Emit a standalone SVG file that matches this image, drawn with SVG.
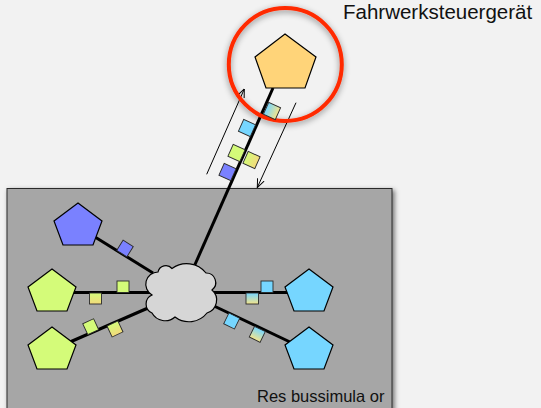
<svg xmlns="http://www.w3.org/2000/svg" width="541" height="408" viewBox="0 0 541 408">
  <defs>
    <style>
      .node { stroke: #000; stroke-width: 1.2; stroke-linejoin: miter; }
      .bus { stroke: #000; stroke-width: 3; fill: none; }
      .flow { stroke: #000; stroke-width: 1; fill: none; marker-end: url(#openArrow); }
      .msg { stroke: #2a2a2a; stroke-width: 0.9; }
      .label { font-family: "Liberation Sans", Arial, sans-serif; fill: #111; }
      .orange { fill: #ffd479; }
      .blue { fill: #7a81ff; }
      .green { fill: #d4fb79; }
      .cyan { fill: #76d6ff; }
    </style>
    <linearGradient id="cyanToSandV" x1="0" y1="0" x2="0" y2="1">
      <stop offset="0" stop-color="#76d6ff"/>
      <stop offset="1" stop-color="#f4e48c"/>
    </linearGradient>
    <linearGradient id="greenToYellowV" x1="0" y1="0" x2="0" y2="1">
      <stop offset="0" stop-color="#d4fb79"/>
      <stop offset="1" stop-color="#f3da7c"/>
    </linearGradient>
    <linearGradient id="cyanToSandH" x1="0" y1="0" x2="1" y2="0">
      <stop offset="0" stop-color="#76d6ff"/>
      <stop offset="1" stop-color="#f4e48c"/>
    </linearGradient>
    <linearGradient id="greenToYellowH" x1="0" y1="0" x2="1" y2="0">
      <stop offset="0" stop-color="#d4fb79"/>
      <stop offset="1" stop-color="#f3da7c"/>
    </linearGradient>
    <filter id="softShadow" x="-10%" y="-10%" width="120%" height="120%">
      <feGaussianBlur in="SourceAlpha" stdDeviation="2.5"/>
      <feOffset dx="1.5" dy="1.5" result="b"/>
      <feFlood flood-color="#000" flood-opacity="0.55"/>
      <feComposite in2="b" operator="in"/>
      <feMerge><feMergeNode/><feMergeNode in="SourceGraphic"/></feMerge>
    </filter>
    <filter id="ringShadow" x="-20%" y="-20%" width="140%" height="140%">
      <feGaussianBlur in="SourceAlpha" stdDeviation="3"/>
      <feOffset dx="0" dy="2" result="b"/>
      <feFlood flood-color="#000" flood-opacity="0.45"/>
      <feComposite in2="b" operator="in"/>
      <feMerge><feMergeNode/><feMergeNode in="SourceGraphic"/></feMerge>
    </filter>
    <marker id="openArrow" viewBox="0 0 10 10" refX="9.5" refY="5" markerWidth="9" markerHeight="9" markerUnits="userSpaceOnUse" orient="auto">
      <path d="M0,1 L9.5,5 L0,9" fill="none" stroke="#000" stroke-width="1.1"/>
    </marker>
  </defs>

  <!-- canvas -->
  <rect x="0" y="0" width="541" height="408" fill="#f2f2f2"/>

  <!-- rest-bus simulator enclosure -->
  <g id="simulator">
    <rect x="7" y="188.5" width="385" height="240" fill="#a6a6a6" stroke="#2b2b2b" stroke-width="1" filter="url(#softShadow)"/>
    <text class="label" x="257" y="401.5" font-size="16.5">Res bussimula or</text>
  </g>

  <!-- bus wiring -->
  <g id="connectors">
    <line class="bus" x1="273" y1="88" x2="193" y2="269"/>
    <line class="bus" x1="95" y1="237" x2="153" y2="273"/>
    <line class="bus" x1="70" y1="292.5" x2="150" y2="292.5"/>
    <line class="bus" x1="70" y1="342" x2="148" y2="308"/>
    <line class="bus" x1="214" y1="292.5" x2="290" y2="292.5"/>
    <line class="bus" x1="214" y1="306" x2="290" y2="342"/>
    <!-- transfer direction arrows -->
    <line class="flow" x1="206.7" y1="174.3" x2="244.3" y2="89"/>
    <line class="flow" x1="296" y1="102.7" x2="257.3" y2="187.5"/>
  </g>

  <!-- central bus cloud -->
  <g id="bus-cloud">
    <path class="node" fill="#d6d6d6" d="M152,295 A12.3,12.3 0 0 1 158,272 A8,8 0 0 1 172,268.5 A24.6,24.6 0 0 1 206,273 A9.5,9.5 0 0 1 212,290 A13.4,13.4 0 0 1 207,313 A23,23 0 0 1 175,317 A15,15 0 0 1 152,313 A9.8,9.8 0 0 1 152,295 Z"/>
  </g>

  <!-- control unit under test -->
  <g id="ecu-chassis">
    <circle cx="285.3" cy="64.5" r="56.5" fill="none" stroke="#ff2a00" stroke-width="4" filter="url(#ringShadow)"/>
    <polygon class="node orange" points="285,34 316,57 305,88 266,88 255,57"/>
    <text class="label" x="343" y="18.5" font-size="20.5">Fahrwerksteuergerät</text>
  </g>

  <!-- simulated bus participants -->
  <g id="node-blue">
    <polygon class="node blue" points="78,203 102,221 93,245 63,245 54,221"/>
  </g>
  <g id="node-green-1">
    <polygon class="node green" points="52,269 76,287 67,311 37,311 28,287"/>
  </g>
  <g id="node-green-2">
    <polygon class="node green" points="52,327 76,345 67,369 37,369 28,345"/>
  </g>
  <g id="node-cyan-1">
    <polygon class="node cyan" points="309,269 333,287 324,311 294,311 285,287"/>
  </g>
  <g id="node-cyan-2">
    <polygon class="node cyan" points="309,327 333,345 324,369 294,369 285,345"/>
  </g>

  <!-- messages travelling on the bus -->
  <g id="messages">
    <g transform="translate(272,111) rotate(24)"><rect class="msg" x="-6.5" y="-6.5" width="13" height="13" fill="url(#cyanToSandH)"/></g>
    <g transform="translate(247,128) rotate(24)"><rect class="msg cyan" x="-6.5" y="-6.5" width="13" height="13"/></g>
    <g transform="translate(236.5,153) rotate(24)"><rect class="msg green" x="-6.5" y="-6.5" width="13" height="13"/></g>
    <g transform="translate(251.5,160) rotate(24)"><rect class="msg" x="-6.5" y="-6.5" width="13" height="13" fill="url(#greenToYellowH)"/></g>
    <g transform="translate(227.5,172) rotate(24)"><rect class="msg blue" x="-6.5" y="-6.5" width="13" height="13"/></g>

    <g transform="translate(125,248.5) rotate(32)"><rect class="msg blue" x="-6" y="-6" width="12" height="12"/></g>

    <rect class="msg green" x="117" y="281" width="12" height="11.5"/>
    <rect class="msg" x="89.5" y="293" width="12" height="11" fill="url(#greenToYellowV)"/>

    <g transform="translate(90.7,326.7) rotate(-25)"><rect class="msg green" x="-6" y="-6" width="12" height="12"/></g>
    <g transform="translate(115,329) rotate(-25)"><rect class="msg" x="-6" y="-6" width="12" height="12" fill="url(#greenToYellowV)"/></g>

    <rect class="msg cyan" x="261" y="281" width="12" height="11.5"/>
    <rect class="msg" x="246" y="293" width="12.5" height="11" fill="url(#cyanToSandV)"/>

    <g transform="translate(231.7,321) rotate(26)"><rect class="msg cyan" x="-6" y="-6" width="12" height="12"/></g>
    <g transform="translate(257.3,334.3) rotate(26)"><rect class="msg" x="-6" y="-6" width="12" height="12" fill="url(#cyanToSandV)"/></g>
  </g>
</svg>
